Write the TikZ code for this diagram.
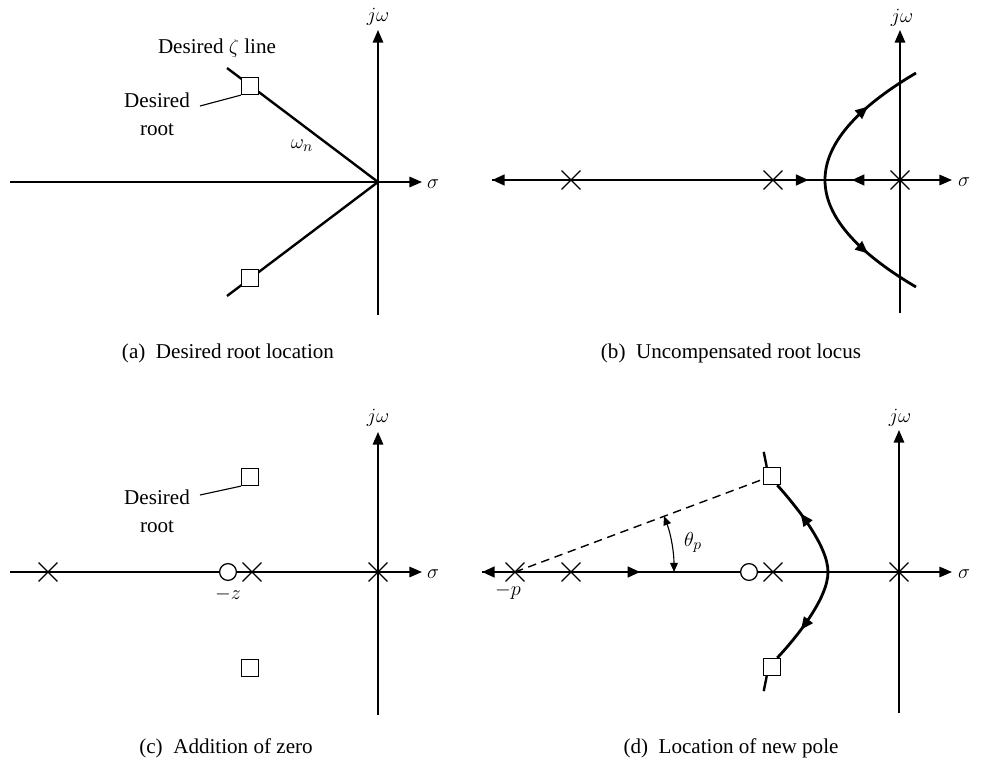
\documentclass[tikz,border=0pt]{standalone}
\usepackage{fontspec}
\setmainfont{Liberation Serif}
\usetikzlibrary{arrows.meta,shapes.misc,decorations.markings}

\begin{document}
\begin{tikzpicture}[x=0.025cm, y=-0.025cm,
  every node/.style={font=\fontsize{15}{20}\selectfont},
  axis/.style={line width=1pt, -{Triangle[length=9pt,width=7.5pt]}},
  locus/.style={line width=2pt},
  ltip/.style={-{Triangle[length=9pt,width=7.5pt]}},
  zline/.style={line width=1.7pt},
  leader/.style={line width=0.8pt},
  guide/.style={line width=1pt, dash pattern=on 6pt off 4pt},
  pole/.style={cross out, draw, line width=0.9pt, minimum size=0.44cm, inner sep=0pt},
  zeronode/.style={circle, draw, fill=white, line width=0.9pt, minimum size=0.42cm, inner sep=0pt},
  droot/.style={rectangle, draw, fill=white, line width=0.9pt, minimum size=0.425cm, inner sep=0pt},
  lbl/.style={align=center, inner sep=1pt},
  figcap/.style={inner sep=0pt},
  fwd/.style={postaction={decorate}, decoration={markings,
    mark=at position #1 with {\arrow{Triangle[length=9pt,width=7.5pt]}}}},
  flow/.style 2 args={postaction={decorate}, decoration={markings,
    mark=at position #1 with {\arrowreversed{Triangle[length=9pt,width=7.5pt]}},
    mark=at position #2 with {\arrow{Triangle[length=9pt,width=7.5pt]}}}}
]
\useasboundingbox (0,0) rectangle (982,762);

% (a) desired root location
\coordinate (oA) at (378,182);
\draw[axis] (10,182) -- (422,182);
\draw[axis] (378,315) -- (378,30);
\node at (433,184) {$\sigma$};
\node at (378,17) {$j\omega$};
\draw[zline] (227,68) -- (oA) -- (227,296);
\node[droot] (rA1) at (250,86) {};
\node[droot] (rA2) at (250,278) {};
\node at (302,146) {$\omega_n$};
\node (zetaA) at (217,48) {Desired $\zeta$ line};
\node[lbl] (dA) at (157,114) {Desired\\root};
\coordinate (lA) at (200,106);
\draw[leader] (lA) -- (rA1.south west);
\node[figcap] at (228,353) {(a)\enspace Desired root location};

% (b) uncompensated root locus
\coordinate (oB) at (900,180);
\draw[axis] (492,180) -- (952,180);
\draw[axis] (900,313) -- (900,30);
\node at (964,182) {$\sigma$};
\node at (902,18) {$j\omega$};
\node[pole] (pB1) at (571,180) {};
\node[pole] (pB2) at (773,180) {};
\node[pole] (pB3) at (oB) {};
\coordinate (bB) at (825,180);
\draw[locus, ltip] (pB1.center) -- (492,180);
\draw[locus, flow={0.62}{0.28}] (pB2.center) -- (oB);
\draw[locus, flow={0.2}{0.8}] (916,73) .. controls (855.5,108.7) and (825,144.3) .. (bB)
  .. controls (825,215.7) and (855.5,251.3) .. (916,287);
\node[figcap] at (731,353) {(b)\enspace Uncompensated root locus};

% (c) addition of zero
\coordinate (oC) at (378,572);
\draw[axis] (10,572) -- (422,572);
\draw[axis] (378,715) -- (378,432);
\node at (433,574) {$\sigma$};
\node at (378,418) {$j\omega$};
\node[pole] (pC1) at (48,572) {};
\node[pole] (pC2) at (252,572) {};
\node[pole] (pC3) at (oC) {};
\node[zeronode] (zC) at (228,572) {};
\node at (228,594) {$-z$};
\node[droot] (rC1) at (250,477) {};
\node[droot] (rC2) at (250,668) {};
\node[lbl] (dC) at (157,511) {Desired\\root};
\coordinate (lC) at (200,495);
\draw[leader] (lC) -- (rC1.south west);
\node[figcap] at (226,748) {(c)\enspace Addition of zero};

% (d) location of new pole
\coordinate (oD) at (899,572);
\draw[axis] (482,572) -- (952,572);
\draw[axis] (899,713) -- (899,430);
\node at (964,574) {$\sigma$};
\node at (900,418) {$j\omega$};
\node[pole] (pD0) at (515,572) {};
\node[pole] (pD1) at (571,572) {};
\node[pole] (pD2) at (773,572) {};
\node[pole] (pD3) at (oD) {};
\node[zeronode] (zD) at (749,572) {};
\node at (508,592) {$-p$};
\draw[locus, ltip] (pD0.center) -- (482,572);
\draw[locus, fwd=0.41] (pD1.center) -- (zD);
\draw[locus] (pD2.center) -- (oD);
\node[droot] (rD1) at (772,476) {};
\node[droot] (rD2) at (772,667) {};
\coordinate (bD) at (828,572);
\draw[locus, flow={0.18}{0.82}] (rD1.-60) .. controls (795,505) and (828,545) .. (bD)
  .. controls (828,599) and (795,639) .. (rD2.60);
\draw[zline] (rD1.120) -- ++(-3,-15);
\draw[zline] (rD2.-120) -- ++(-3,15);
\draw[guide] (pD0.center) -- (rD1.200);
\coordinate (thA) at (674,572);
\coordinate (thB) at (664,516);
\draw[leader, {Triangle[length=6.5pt,width=5.5pt]}-{Triangle[length=6.5pt,width=5.5pt]}]
  (thB) .. controls (671,534.5) and (674,552.5) .. (thA);
\node at (693,542) {$\theta_p$};
\node[figcap] at (731,748) {(d)\enspace Location of new pole};
\end{tikzpicture}
\end{document}
